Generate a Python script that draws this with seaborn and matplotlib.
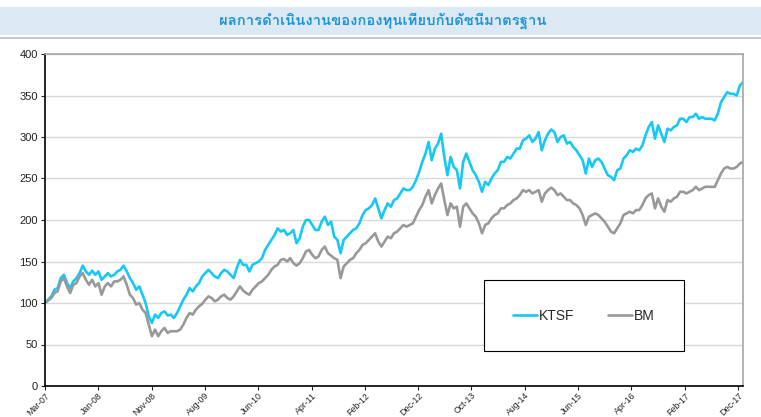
import numpy as np
import pandas as pd
import matplotlib
matplotlib.use('Agg')
import matplotlib.pyplot as plt
import seaborn as sns
from matplotlib import font_manager as fm
from matplotlib.ft2font import FT2Font
from matplotlib.patches import Rectangle
from matplotlib.lines import Line2D

# ------------------------------------------------------------------
# Data (index = 100 at start)
# ------------------------------------------------------------------
title_text = "ผลการดำเนินงานของกองทุนเทียบกับดัชนีมาตรฐาน"
series_names = ["KTSF", "BM"]

ktsf = [100, 104, 108, 116, 118, 130, 134, 124, 118, 126, 130, 136, 145, 138, 134, 139, 134, 138, 128, 132,
        136, 132, 134, 138, 140, 145, 138, 130, 124, 116, 120, 110, 100, 84, 76, 86, 82, 88, 90, 85, 86,
        82, 88, 96, 104, 110, 118, 114, 120, 124, 132, 136, 140, 136, 132, 130, 136, 140, 138, 134, 130,
        142, 152, 146, 146, 138, 146, 148, 150, 154, 164, 170, 176, 182, 190, 186, 188, 182,
        184, 188, 172, 178, 192, 200, 200, 194, 188, 188, 198, 204, 194, 198, 180, 176, 160, 176, 180, 184,
        188, 190, 196, 206, 212, 214, 218, 226, 214, 202, 212, 220, 216, 224, 226, 232, 238, 236,
        236, 240, 248, 258, 270, 280, 294, 272, 286, 292, 304, 276, 254, 276, 264, 260, 238, 270, 280, 270,
        260, 254, 246, 234, 246, 242, 250, 256, 260, 270, 270, 276, 274, 280, 286, 286, 296,
        298, 302, 294, 298, 306, 284, 296, 304, 309, 306, 294, 300, 302, 292, 294, 288, 284, 278, 272, 256,
        274, 264, 272, 274, 270, 262, 254, 252, 248, 260, 262, 274, 278, 284, 282, 286, 284, 290, 302,
        312, 318, 298, 314, 304, 294, 310, 308, 312, 314, 322, 322, 318, 324, 324, 328, 322, 324, 322, 322,
        322, 320, 328, 342, 348, 354, 352, 352, 350, 362, 366]

bm = [100, 103, 106, 112, 114, 126, 130, 120, 112, 122, 124, 132, 136, 128, 122, 128, 120, 124, 110, 120,
      124, 120, 126, 126, 128, 132, 122, 110, 106, 98, 100, 92, 88, 74, 60, 68, 60, 66, 70, 64, 66,
      66, 66, 68, 74, 82, 88, 86, 92, 96, 99, 104, 108, 106, 102, 104, 108, 110, 106, 104, 108,
      114, 120, 115, 112, 110, 116, 120, 124, 126, 130, 134, 140, 144, 146, 152, 153, 150,
      154, 148, 145, 148, 154, 162, 164, 158, 154, 156, 164, 168, 160, 157, 154, 152, 130, 144, 148, 152,
      154, 160, 164, 170, 172, 176, 180, 184, 174, 168, 174, 180, 178, 184, 186, 190, 194, 192,
      194, 196, 204, 212, 218, 228, 236, 220, 230, 238, 244, 224, 206, 220, 214, 216, 192, 216, 220, 214,
      208, 204, 196, 184, 194, 196, 202, 206, 208, 214, 214, 218, 220, 224, 226, 230, 236,
      234, 236, 232, 234, 236, 222, 232, 236, 239, 236, 230, 232, 228, 224, 224, 220, 218, 214, 206, 194,
      204, 206, 208, 206, 202, 198, 192, 186, 184, 190, 196, 206, 208, 210, 208, 212, 212, 218, 226,
      230, 232, 214, 226, 216, 210, 224, 222, 226, 228, 234, 234, 232, 234, 236, 240, 236, 238, 240, 240,
      240, 240, 248, 256, 262, 264, 262, 262, 264, 268, 270]

tick_labels = ["Mar-07", "Jan-08", "Nov-08", "Aug-09", "Jun-10", "Apr-11", "Feb-12",
               "Dec-12", "Oct-13", "Aug-14", "Jun-15", "Apr-16", "Feb-17", "Dec-17"]
y_ticks = [0, 50, 100, 150, 200, 250, 300, 350, 400]

dates = pd.date_range("2007-03-01", "2017-12-31", periods=len(ktsf))
tick_dates = pd.date_range("2007-03-01", "2017-12-03", periods=len(tick_labels))

df = pd.DataFrame({"date": np.concatenate([dates, dates]),
                   "value": ktsf + bm,
                   "series": [series_names[0]] * len(ktsf) + [series_names[1]] * len(bm)})

palette = {"KTSF": "#18C8F4", "BM": "#999999"}


# font with Thai glyphs for the title (searched at run time)
def find_font(text):
    for path in sorted(fm.findSystemFonts()):
        try:
            cmap = FT2Font(path).get_charmap()
        except Exception:
            continue
        if all(ord(c) in cmap for c in text if not c.isspace()):
            return path
    return None


sns.set_style("white")
plt.rcParams['font.family'] = ['Liberation Sans', 'DejaVu Sans']

fig = plt.figure(figsize=(7.61, 4.17), dpi=100)
ax = fig.add_axes([45 / 761, 1 - 386 / 417, 698 / 761, 332 / 417])

sns.lineplot(data=df, x="date", y="value", hue="series", palette=palette,
             linewidth=1.9, ax=ax, legend=False)

ax.set_xlim(dates[0], dates[-1])
ax.set_ylim(0, 400)
ax.set_yticks(y_ticks)
ax.set_yticklabels([str(v) for v in y_ticks], fontsize=8, color='#222222')
ax.set_xticks(tick_dates)
ax.set_xticklabels(tick_labels, rotation=45, ha='right', rotation_mode='anchor',
                   fontsize=6.3, color='#222222')
ax.set_xlabel("")
ax.set_ylabel("")
ax.tick_params(axis='both', which='major', direction='out', length=3, width=0.8,
               bottom=True, left=True, colors='#222222', pad=2)
ax.tick_params(axis='x', pad=0.5)
ax.yaxis.grid(True, color='#D9D9D9', linewidth=1)
ax.xaxis.grid(False)
for side in ['left', 'bottom']:
    ax.spines[side].set_color('black')
    ax.spines[side].set_linewidth(1.2)
for side in ['top', 'right']:
    ax.spines[side].set_color('#A6A6A6')
    ax.spines[side].set_linewidth(1.2)

handles = [Line2D([], [], color=palette[n], linewidth=1.9) for n in series_names]
leg = ax.legend(handles, series_names, loc='center', bbox_to_anchor=(0.772, 0.211),
                ncol=2, frameon=True, fancybox=False, framealpha=1, edgecolor='black',
                fontsize=10, borderpad=2.05, handlelength=1.75, handletextpad=0.15,
                columnspacing=2.4)
leg.get_frame().set_linewidth(0.8)

# title band
fig.patches.append(Rectangle((0, 1 - 35 / 417), 1, 28 / 417, transform=fig.transFigure,
                             facecolor='#DCE9F5', edgecolor='none', zorder=0))
fig.add_artist(Line2D([0, 1], [1 - 38 / 417, 1 - 38 / 417], transform=fig.transFigure,
                      color='#C8C8C8', linewidth=1.5))
thai_path = find_font(title_text)
if thai_path:
    tprops = fm.FontProperties(fname=thai_path, size=10.7, weight='bold')
else:
    tprops = fm.FontProperties(family='DejaVu Sans', size=10.7, weight='bold')
fig.text(0.503, 1 - 21 / 417, title_text, ha='center', va='center',
         color='#1E95D6', fontproperties=tprops)

fig.savefig('out.png', dpi=100)
